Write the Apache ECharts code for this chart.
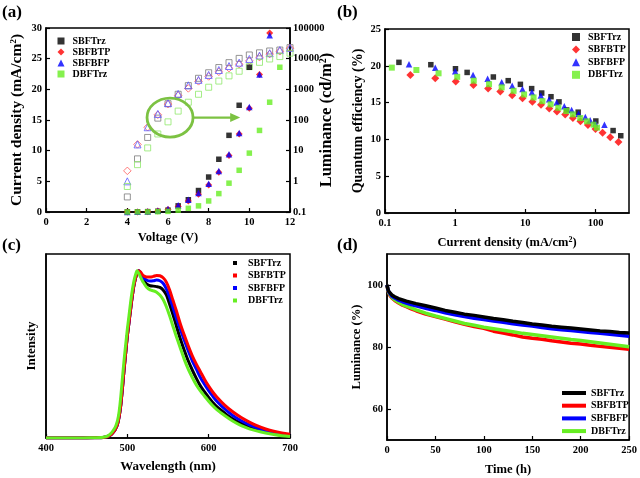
<!DOCTYPE html>
<html><head><meta charset="utf-8">
<script src="https://cdn.jsdelivr.net/npm/echarts@6/dist/echarts.min.js"></script>
<style>html,body{margin:0;padding:0;background:#fff}#c{width:640px;height:478px}</style>
</head><body><div id="c"></div>
<script>
// ---------- Panel (a): J-V-L ----------
const voltage = [4,4.5,5,5.5,6,6.5,7,7.5,8,8.5,9,9.5,10,10.5,11,11.5,12];
const jSBFTrz = [0.02,0.03,0.06,0.12,0.3,1.0,2.0,3.5,5.7,8.6,12.5,17.4,23.6,null,null,null,null];
const jSBFBTP = [0.01,0.02,0.05,0.15,0.4,0.9,1.8,2.9,4.4,6.5,9.2,12.7,16.9,22.4,29.2,null,null];
const jSBFBFP = [0.02,0.04,0.08,0.2,0.5,1.1,2.0,3.1,4.6,6.7,9.4,12.9,17.1,22.4,28.8,null,null];
const jDBFTrz = [0.0,0.01,0.02,0.05,0.1,0.3,0.6,1.0,1.8,3.0,4.7,6.8,9.6,13.3,17.9,23.6,null];
const lSBFTrz = [0.31,5.4,27,115,340,690,1320,2290,3470,5130,7410,10200,13200,15500,17800,19100,22900];
const lSBFBTP = [2.2,16,58,148,330,630,1070,1820,2630,3720,4900,6610,8510,11200,14100,17400,21900];
const lSBFBFP = [1.0,16,58,158,355,710,1350,2040,2950,4270,5750,7410,9770,12600,15100,19100,22400];
const lDBFTrz = [0.68,3.5,12.3,35,87,195,380,690,1170,1860,2750,3890,5500,7590,9770,11700,15100];

// ---------- Panel (b): EQE vs J ----------
const bJ_SBFTrz = [0.158,0.45,1.01,1.48,3.5,5.7,8.5,12.3,17.1,23.2,30.2,38.8,56.6,101,178,229];
const bE_SBFTrz = [20.47,20.15,19.6,19.1,18.48,17.98,17.48,16.9,16.3,15.8,15.1,14.0,13.7,12.5,11.2,10.5];
const bJ_SBFBTP = [0.23,0.52,1.02,1.82,2.95,4.4,6.5,9.1,12.6,16.7,21.9,28.2,37,47.6,61,78,100,126,162,212];
const bE_SBFBTP = [18.75,18.3,17.85,17.4,16.9,16.5,16.0,15.6,15.1,14.7,14.2,13.8,13.4,12.9,12.45,11.95,11.4,10.9,10.3,9.65];
const bJ_SBFBFP = [0.22,0.52,1.0,1.8,2.9,4.6,6.5,9.1,12.4,16.6,21.8,27.9,35.9,45.7,57.5,71.5,83.8,100,134];
const bE_SBFBFP = [20.2,19.75,19.25,18.75,18.25,17.75,17.3,16.85,16.4,15.95,15.45,15.0,14.5,14.0,13.5,13.05,12.6,12.15,12.0];
const bJ_DBFTrz = [0.125,0.28,0.58,1.07,1.84,3.04,4.6,6.8,9.6,13.1,17.5,22.9,29.5,38.3,47.6,60.5,75.6,93.7,105];
const bE_DBFTrz = [19.75,19.43,18.98,18.5,17.98,17.5,17.07,16.6,16.1,15.7,15.2,14.76,14.3,13.86,13.4,12.9,12.45,12.0,11.6];

// ---------- Panel (c): EL spectra ----------
const wavelength = [400,440,460,468,472,476,480,484,486,488,490,492,494,496,498,500,502,504,506,508,510,512,514,516,518,520,524,528,532,536,540,544,548,552,556,560,565,570,575,580,585,590,595,600,605,610,620,630,640,650,660,670,680,690,700];
const sSBFTrz = [0,0,0.001,0.002,0.004,0.009,0.02,0.042,0.06,0.085,0.13,0.2,0.3,0.41,0.51,0.61,0.69,0.77,0.845,0.91,0.955,0.985,1.0,0.985,0.96,0.942,0.92,0.91,0.908,0.905,0.9,0.885,0.855,0.8,0.74,0.675,0.595,0.525,0.46,0.405,0.355,0.31,0.275,0.243,0.213,0.187,0.148,0.113,0.087,0.066,0.048,0.035,0.025,0.017,0.012];
const sSBFBTP = [0,0,0.001,0.002,0.004,0.009,0.02,0.042,0.06,0.085,0.13,0.2,0.3,0.41,0.51,0.61,0.69,0.77,0.845,0.91,0.955,0.985,1.0,0.993,0.98,0.97,0.962,0.962,0.966,0.972,0.97,0.958,0.932,0.885,0.825,0.765,0.685,0.615,0.55,0.49,0.44,0.395,0.35,0.31,0.275,0.245,0.195,0.155,0.122,0.095,0.072,0.054,0.04,0.03,0.022];
const sSBFBFP = [0,0,0.001,0.002,0.004,0.009,0.02,0.042,0.06,0.085,0.13,0.2,0.3,0.41,0.51,0.61,0.69,0.77,0.845,0.91,0.955,0.985,1.0,0.99,0.972,0.958,0.943,0.938,0.94,0.944,0.94,0.925,0.892,0.842,0.782,0.72,0.652,0.585,0.52,0.46,0.41,0.36,0.32,0.283,0.25,0.22,0.172,0.133,0.103,0.079,0.06,0.045,0.033,0.024,0.017];
const sDBFTrz = [0,0,0.002,0.003,0.006,0.013,0.028,0.055,0.075,0.105,0.16,0.25,0.36,0.465,0.56,0.65,0.73,0.81,0.88,0.935,0.975,1.0,0.985,0.965,0.945,0.928,0.9,0.886,0.88,0.872,0.855,0.828,0.785,0.73,0.67,0.61,0.54,0.47,0.41,0.36,0.315,0.28,0.25,0.22,0.193,0.17,0.133,0.1,0.074,0.055,0.041,0.03,0.021,0.014,0.009];

// ---------- Panel (d): lifetime ----------
const timeH = [0,1,2,3,5,8,12,16,20,25,30,40,50,60,70,80,90,100,110,120,130,140,150,160,170,180,190,200,210,220,230,240,250];
const tSBFTrz = [100,98.6,97.9,97.4,96.8,96.2,95.6,95.2,94.8,94.4,94.0,93.3,92.6,91.8,91.2,90.6,90.2,89.7,89.2,88.8,88.3,87.9,87.4,87.1,86.7,86.4,86.1,85.8,85.5,85.2,85.0,84.7,84.5];
const tSBFBTP = [100,98.2,97.3,96.6,95.8,95.0,94.2,93.5,93.0,92.3,91.7,90.6,89.8,89.0,88.1,87.3,86.6,86.0,85.1,84.5,83.9,83.2,82.8,82.5,82.0,81.6,81.2,81.0,80.6,80.2,79.9,79.6,79.3];
const tSBFBFP = [100,98.5,97.7,97.1,96.4,95.8,95.1,94.6,94.2,93.7,93.3,92.5,91.8,91.0,90.4,89.8,89.3,88.9,88.4,88.0,87.5,87.1,86.8,86.3,85.9,85.6,85.3,85.0,84.7,84.4,84.1,83.8,83.5];
const tDBFTrz = [100,98.3,97.4,96.8,96.0,95.2,94.4,93.7,93.2,92.6,92.0,90.9,90.0,89.2,88.4,87.6,87.0,86.4,85.9,85.4,84.9,84.4,84.0,83.6,83.2,82.8,82.4,82.1,81.7,81.3,80.9,80.5,80.1];

const names = ['SBFTrz','SBFBTP','SBFBFP','DBFTrz'];
const C = {SBFTrz:'#000000', SBFBTP:'#ff0000', SBFBFP:'#0000ff', DBFTrz:'#66ee22'};
const OPEN = {SBFTrz:'#7a7a7a', SBFBTP:'#ff5a5a', SBFBFP:'#5a5aff', DBFTrz:'#8fe86a'};
const FF = 'Liberation Serif';

const zip = (xs, ys) => xs.map((x,i)=>[x, ys[i]]).filter(p=>p[1]!==null && p[1]!==undefined);

const lbl = {fontFamily:FF, fontWeight:'bold', fontSize:10.5, color:'#000'};
const line = {show:true, lineStyle:{color:'#000', width:1.5}};
const tick = {show:true, inside:true, length:4, lineStyle:{color:'#000', width:1.2}};
function nameStyle(fs){
  return {fontFamily:FF, fontWeight:'bold', fontSize:fs, color:'#000',
    rich:{t:{fontFamily:FF, fontWeight:'bold', fontSize:fs, color:'#000'},
          s:{fontFamily:FF, fontWeight:'bold', fontSize:Math.round(fs*0.6), color:'#000', verticalAlign:'top', padding:[0,0,Math.round(fs*0.45),0]}}};
}
const logFmt = v => String(parseFloat(Number(v).toPrecision(4)));

const jSets = {SBFTrz:jSBFTrz, SBFBTP:jSBFBTP, SBFBFP:jSBFBFP, DBFTrz:jDBFTrz};
const lSets = {SBFTrz:lSBFTrz, SBFBTP:lSBFBTP, SBFBFP:lSBFBFP, DBFTrz:lDBFTrz};
const bSets = {SBFTrz:[bJ_SBFTrz,bE_SBFTrz], SBFBTP:[bJ_SBFBTP,bE_SBFBTP], SBFBFP:[bJ_SBFBFP,bE_SBFBFP], DBFTrz:[bJ_DBFTrz,bE_DBFTrz]};
const sSets = {SBFTrz:sSBFTrz, SBFBTP:sSBFBTP, SBFBFP:sSBFBFP, DBFTrz:sDBFTrz};
const tSets = {SBFTrz:tSBFTrz, SBFBTP:tSBFBTP, SBFBFP:tSBFBFP, DBFTrz:tDBFTrz};
const SYM = {SBFTrz:'rect', SBFBTP:'diamond', SBFBFP:'triangle', DBFTrz:'rect'};
const SZa = {SBFTrz:5.5, SBFBTP:7, SBFBFP:6.5, DBFTrz:5.5};
const SZb = {SBFTrz:5.5, SBFBTP:8, SBFBFP:6.5, DBFTrz:6};

const series = [];
names.forEach(n => series.push({name:'L '+n, type:'scatter', xAxisIndex:0, yAxisIndex:1,
  data: zip(voltage, lSets[n]), symbol:SYM[n], symbolSize:SZa[n]+0.5,
  itemStyle:{color:'rgba(0,0,0,0)', borderColor:OPEN[n], borderWidth:1}, z:2}));
names.forEach(n => series.push({name:'a '+n, type:'scatter', xAxisIndex:0, yAxisIndex:0,
  data: zip(voltage, jSets[n]), symbol:SYM[n], symbolSize:SZa[n],
  itemStyle:{color:C[n]}, z:3}));
names.forEach(n => series.push({name:'b '+n, type:'scatter', xAxisIndex:1, yAxisIndex:2,
  data: zip(bSets[n][0], bSets[n][1]), symbol:SYM[n], symbolSize:SZb[n],
  itemStyle:{color:C[n]}}));
['SBFTrz','SBFBFP','SBFBTP','DBFTrz'].forEach(n => series.push({name:'c '+n, type:'line', xAxisIndex:2, yAxisIndex:3,
  data: zip(wavelength, sSets[n]), showSymbol:false, smooth:0.3,
  lineStyle:{color:C[n], width:3}, itemStyle:{color:C[n]}}));
['SBFBTP','DBFTrz','SBFBFP','SBFTrz'].forEach(n => series.push({name:'d '+n, type:'line', xAxisIndex:3, yAxisIndex:4,
  data: zip(timeH, tSets[n]), showSymbol:false,
  lineStyle:{color:C[n], width:3.5}, itemStyle:{color:C[n]}}));

const legendText = {fontFamily:FF, fontWeight:'bold', fontSize:10, color:'#000', lineHeight:10};
function legend(prefix, left, top, gap, icons, w, h, pad){
  return {left, top, padding:0, orient:'vertical', itemGap:gap, itemWidth:w, itemHeight:h, selectedMode:false,
    formatter: s => s.slice(2), textStyle:Object.assign({padding:[0,0,0,pad]}, legendText),
    data: names.map(n => ({name:prefix+' '+n, icon:icons[n], itemStyle:{color:C[n], borderWidth:0}}))};
}
const lineIcon = {SBFTrz:'rect', SBFBTP:'rect', SBFBFP:'rect', DBFTrz:'rect'};

const option = {
  animation:false,
  backgroundColor:'#fff',
  grid:[
    {left:46, top:28, width:244, height:184, show:true, borderColor:'#000', borderWidth:1.5},
    {left:385, top:29, width:244, height:184, show:true, borderColor:'#000', borderWidth:1.5},
    {left:46, top:254, width:244, height:184, show:true, borderColor:'#000', borderWidth:1.5},
    {left:387, top:254, width:244, height:186, show:true, borderColor:'#000', borderWidth:1.5}
  ],
  legend:[
    legend('a', 57.5, 36, 1, SYM, 7, 7, 3),
    legend('b', 572, 32, 2.6, SYM, 8, 8, 3),
    legend('c', 233, 258, 2.5, lineIcon, 4, 4, 6),
    legend('d', 562, 388, 2.7, lineIcon, 24, 4, 0)
  ],
  xAxis:[
    {gridIndex:0, type:'value', min:0, max:12, interval:2, axisLine:line, axisTick:tick, splitLine:{show:false},
      axisLabel:Object.assign({margin:5}, lbl), name:'Voltage (V)', nameLocation:'middle', nameGap:19, nameTextStyle:nameStyle(12.5)},
    {gridIndex:1, type:'log', logBase:10, min:0.1, max:300, axisLine:line, axisTick:tick, splitLine:{show:false}, minorTick:{show:false},
      axisLabel:Object.assign({margin:5, formatter:logFmt, showMaxLabel:false}, lbl), name:'{t|Current density (mA/cm}{s|2}{t|)}', nameLocation:'middle', nameGap:23, nameTextStyle:nameStyle(12.5)},
    {gridIndex:2, type:'value', min:400, max:700, interval:100, axisLine:line, axisTick:tick, splitLine:{show:false},
      axisLabel:Object.assign({margin:5}, lbl), name:'Wavelength (nm)', nameLocation:'middle', nameGap:22, nameTextStyle:nameStyle(13)},
    {gridIndex:3, type:'value', min:0, max:250, interval:50, axisLine:line, axisTick:tick, splitLine:{show:false},
      axisLabel:Object.assign({margin:5}, lbl), name:'Time (h)', nameLocation:'middle', nameGap:23, nameTextStyle:nameStyle(12.6)}
  ],
  yAxis:[
    {gridIndex:0, type:'value', min:0, max:30, interval:5, axisLine:line, axisTick:tick, splitLine:{show:false},
      axisLabel:Object.assign({margin:4}, lbl), name:'{t|Current density (mA/cm}{s|2}{t|)}', nameLocation:'middle', nameGap:21, nameTextStyle:nameStyle(15.5)},
    {gridIndex:0, type:'log', logBase:10, min:0.1, max:100000, position:'right', axisLine:line, axisTick:tick, splitLine:{show:false}, minorTick:{show:false},
      axisLabel:Object.assign({margin:3, formatter:logFmt}, lbl), name:'{t|Luminance (cd/m}{s|2}{t|)}', nameLocation:'middle', nameGap:28, nameMoveOverlap:false, nameTextStyle:nameStyle(16.5)},
    {gridIndex:1, type:'value', min:0, max:25, interval:5, axisLine:line, axisTick:tick, splitLine:{show:false},
      axisLabel:Object.assign({margin:4}, lbl), name:'Quantum efficiency (%)', nameLocation:'middle', nameGap:19.5, nameTextStyle:nameStyle(14)},
    {gridIndex:2, type:'value', min:0, max:1.1, axisLine:line, axisTick:{show:false}, axisLabel:{show:false}, splitLine:{show:false},
      name:'Intensity', nameLocation:'middle', nameGap:8, nameTextStyle:nameStyle(13)},
    {gridIndex:3, type:'value', min:50, max:110, axisLine:line, splitLine:{show:false},
      axisTick:Object.assign({customValues:[60,80,100]}, tick),
      axisLabel:Object.assign({margin:4, customValues:[60,80,100]}, lbl), name:'Luminance (%)', nameLocation:'middle', nameGap:22, nameTextStyle:nameStyle(12.6)}
  ],
  series
};

const chart = echarts.init(document.getElementById('c'), null, {renderer:'canvas'});
chart.setOption(option);

const ctr = chart.convertToPixel({xAxisIndex:0, yAxisIndex:0}, [6.1, 15.4]);
const tip = chart.convertToPixel({xAxisIndex:0, yAxisIndex:0}, [9.55, 15.4]);
const rx = 23, ry = 19.5, gcol = '#7cc242';
const pl = (t,l,tp) => ({type:'text', left:l, top:tp, style:{text:t, font:'bold 17px "Liberation Serif"', fill:'#000'}});
chart.setOption({graphic:[
  pl('(a)', 2, 4), pl('(b)', 337, 4), pl('(c)', 2, 237), pl('(d)', 337, 237),
  {type:'ellipse', shape:{cx:ctr[0], cy:ctr[1], rx, ry}, style:{fill:'none', stroke:gcol, lineWidth:2.8}, z:10},
  {type:'line', shape:{x1:ctr[0]+rx, y1:ctr[1], x2:tip[0]-9, y2:tip[1]}, style:{stroke:gcol, lineWidth:2.2}, z:10},
  {type:'polygon', shape:{points:[[tip[0]-10, tip[1]-4.5],[tip[0], tip[1]],[tip[0]-10, tip[1]+4.5]]}, style:{fill:gcol}, z:10}
]});
</script></body></html>
